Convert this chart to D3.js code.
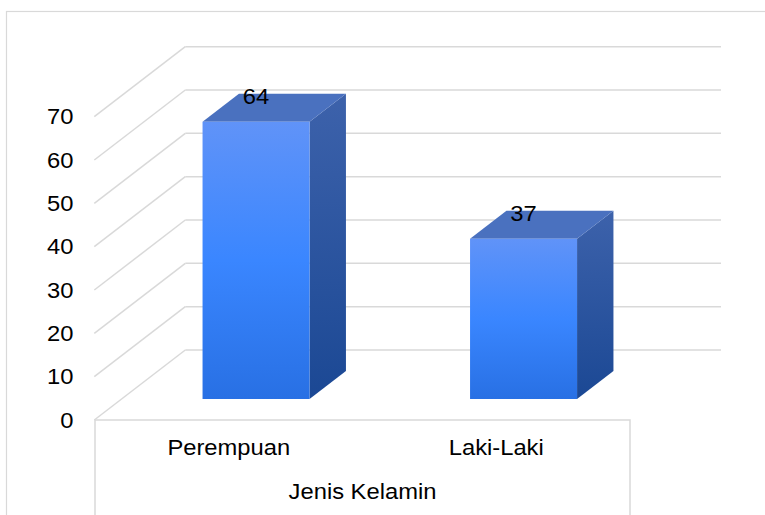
<!DOCTYPE html>
<html>
<head>
<meta charset="utf-8">
<script src="https://cdnjs.cloudflare.com/ajax/libs/d3/7.8.5/d3.min.js"></script>
<style>
  body { margin: 0; background: #fff; }
  svg { display: block; }
  text { font-family: "Liberation Sans", Arial, sans-serif; font-size: 22px; fill: #000; }
</style>
</head>
<body>
<div id="chart"></div>
<script>
// data
const categories = ['Perempuan', 'Laki-Laki'];
const values = [64, 37];
const yTicks = [0, 10, 20, 30, 40, 50, 60, 70];
const axisTitle = 'Jenis Kelamin';

const width = 765, height = 515;
const depthX = 91, depthY = 70;   // oblique offset of the back wall
const barFront = 0.3, barBack = 0.7; // bar depth as fraction of the floor
const stretch = 1.08;              // text in the picture is a bit wide

const svg = d3.select('#chart').append('svg')
    .attr('width', width)
    .attr('height', height);

const x = d3.scaleBand()
    .domain(categories)
    .range([95, 630])
    .paddingInner(0.6)
    .paddingOuter(0.3);

const xCat = d3.scaleBand().domain(categories).range([95, 630]);

const y = d3.scaleLinear().domain([0, 70]).range([420, 116.7]);

// project a point on the front plane back by a depth fraction
const P = (px, py, d) => [px + d * depthX, py - d * depthY];

const defs = svg.append('defs');
const front = defs.append('linearGradient').attr('id', 'gFront')
    .attr('x1', 0).attr('y1', 0).attr('x2', 0).attr('y2', 1);
front.append('stop').attr('offset', '0%').attr('stop-color', '#6093f8');
front.append('stop').attr('offset', '50%').attr('stop-color', '#3a86ff');
front.append('stop').attr('offset', '100%').attr('stop-color', '#2870e4');
const side = defs.append('linearGradient').attr('id', 'gSide')
    .attr('x1', 0).attr('y1', 0).attr('x2', 0).attr('y2', 1);
side.append('stop').attr('offset', '0%').attr('stop-color', '#3d62ab');
side.append('stop').attr('offset', '100%').attr('stop-color', '#1b4894');

// outer border
svg.append('rect')
    .attr('x', 6.5).attr('y', 11.5)
    .attr('width', 900).attr('height', 600)
    .attr('fill', 'none')
    .attr('stroke', '#d9d9d9')
    .attr('stroke-width', 1.2);

const grid = svg.append('g')
    .attr('stroke', '#d9d9d9')
    .attr('stroke-width', 1.5)
    .attr('fill', 'none');

// side wall diagonals and back wall gridlines
yTicks.forEach(t => {
    const a = [94.3, y(t)];
    const b = P(94.3, y(t), 1);
    grid.append('line')
        .attr('x1', a[0]).attr('y1', a[1])
        .attr('x2', b[0]).attr('y2', b[1]);
    grid.append('line')
        .attr('x1', b[0]).attr('y1', b[1])
        .attr('x2', P(630, y(t), 1)[0]).attr('y2', b[1]);
});

// floor front edge and category box
grid.append('path')
    .attr('d', `M95,${height + 2}V${y(0)}H630V${height + 2}`);

// y axis labels
svg.append('g').selectAll('text')
    .data(yTicks)
    .enter().append('text')
    .attr('transform', d => `translate(73.5,${y(d) + 7.5}) scale(${stretch},1)`)
    .attr('text-anchor', 'end')
    .text(d => d);

// bars
const bars = svg.selectAll('g.bar')
    .data(categories.map((c, i) => ({ cat: c, value: values[i] })))
    .enter().append('g')
    .attr('class', 'bar');

bars.each(function(d) {
    const g = d3.select(this);
    const x0 = x(d.cat), x1 = x(d.cat) + x.bandwidth();
    const y0 = y(0), y1 = y(d.value);
    const f00 = P(x0, y0, barFront), f10 = P(x1, y0, barFront);
    const f01 = P(x0, y1, barFront), f11 = P(x1, y1, barFront);
    const b10 = P(x1, y0, barBack), b01 = P(x0, y1, barBack), b11 = P(x1, y1, barBack);

    g.append('path')
        .attr('d', `M${f10}L${b10}L${b11}L${f11}Z`)
        .attr('fill', 'url(#gSide)');
    g.append('path')
        .attr('d', `M${f01}L${f11}L${b11}L${b01}Z`)
        .attr('fill', '#4a71bf');
    g.append('path')
        .attr('d', `M${f00}L${f10}L${f11}L${f01}Z`)
        .attr('fill', 'url(#gFront)');

    const cx = (f00[0] + f10[0]) / 2;
    g.append('text')
        .attr('transform', `translate(${cx},${f01[1] - 18}) scale(${stretch},1)`)
        .attr('text-anchor', 'middle')
        .text(d.value);
});

// category labels
svg.append('g').selectAll('text')
    .data(categories)
    .enter().append('text')
    .attr('transform', d => `translate(${xCat(d) + xCat.bandwidth() / 2},455) scale(${stretch},1)`)
    .attr('text-anchor', 'middle')
    .text(d => d);

svg.append('text')
    .attr('transform', `translate(362.5,499) scale(${stretch},1)`)
    .attr('text-anchor', 'middle')
    .text(axisTitle);
</script>
</body>
</html>
